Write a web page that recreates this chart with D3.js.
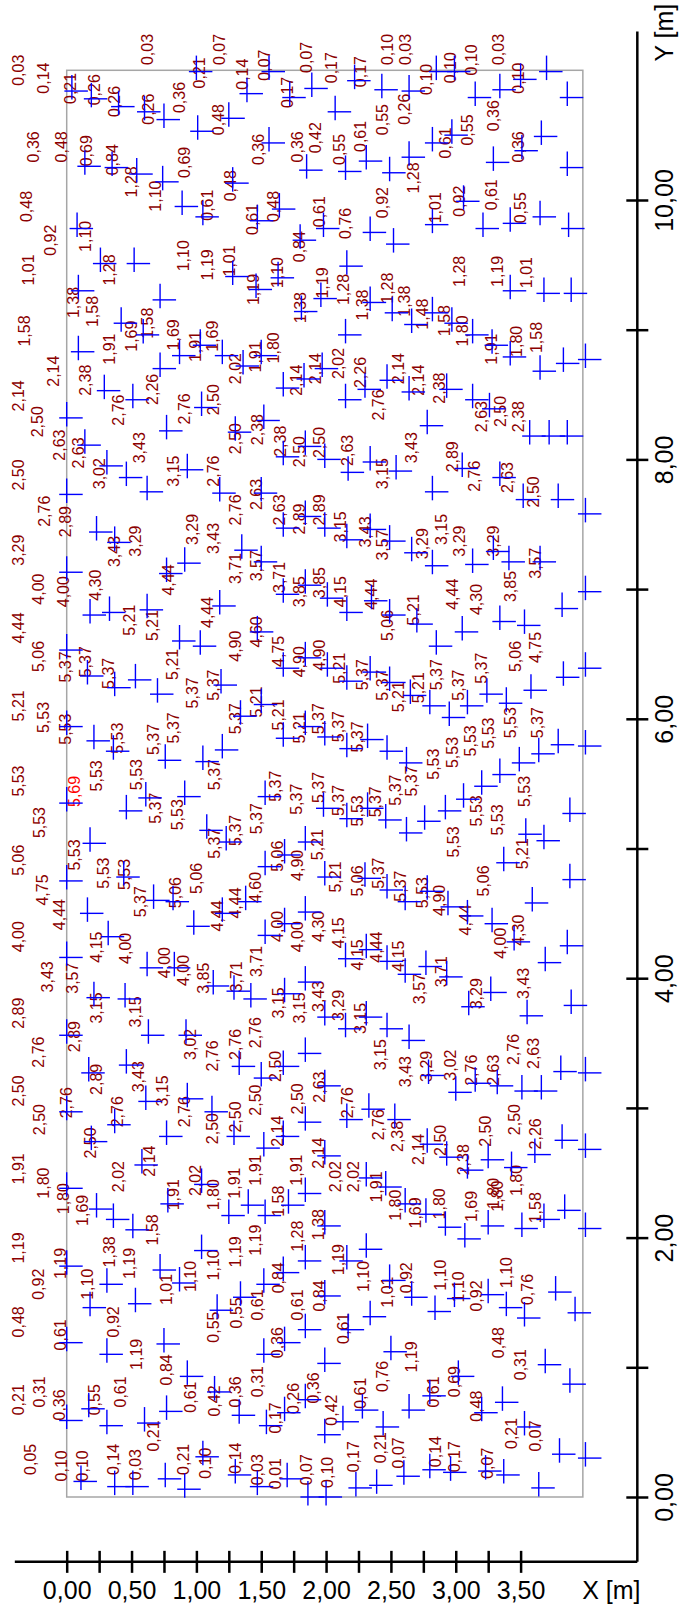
<!DOCTYPE html>
<html>
<head>
<meta charset="utf-8">
<script src="https://cdn.jsdelivr.net/npm/d3@7"></script>
<style>
  body { margin: 0; background: #fff; }
  svg { display: block; font-family: "Liberation Sans", Arial, sans-serif; }
</style>
</head>
<body>
<svg id="chart" width="680" height="1606"></svg>
<script>
// survey area (m)
const areaX = [0, 3.98];
const areaY = [0, 11];

// axis extents and ticks (m)
const xAxisSpan = [-0.4, 4.4];
const yAxisSpan = [-0.5, 11.3];
const xTicks = d3.range(0, 3.51, 0.25);
const yTicks = d3.range(0, 10.01, 1);

// measuring points [X, Y]
const points = [
  [1.00,10.99],[0.04,10.84],[0.19,10.78],[0.40,10.72],[0.60,10.68],[0.75,10.62],[1.01,10.53],[1.25,10.63],[1.39,10.82],[1.56,10.99],[1.72,10.79],[1.89,10.86],[2.07,10.68],[0.14,10.26],[0.35,10.25],[0.54,10.20],[0.74,10.14],[0.89,9.95],[1.05,9.87],[1.28,10.13],[1.56,10.44],[1.85,10.23],[2.15,10.22],[1.47,9.84],[1.64,9.93],[1.80,9.69],[1.98,9.78],[0.08,9.78],[0.26,9.51],[0.52,9.51],[1.28,9.41],[1.46,9.31],[1.63,9.40],[0.72,9.23],[0.09,9.30],[1.81,9.14],[1.96,9.24],
  [2.22,10.92],[2.43,10.85],[2.64,10.84],[2.85,10.99],[2.99,10.99],[3.15,10.79],[3.34,10.85],[3.50,10.93],[3.70,10.99],[3.86,10.79],[2.82,10.44],[2.97,10.50],[2.64,10.33],[2.49,10.21],[2.31,10.30],[3.66,10.49],[3.51,10.38],[3.29,10.29],[3.86,10.25],[3.06,9.99],[2.82,9.81],[2.52,9.66],[2.34,9.75],[3.21,9.78],[3.42,9.82],[3.65,9.87],[3.87,9.78],[2.16,9.49],[3.42,9.30],[3.68,9.28],[3.89,9.28],[2.34,9.21],[2.51,9.13],[2.82,9.13],
  [0.42,9.05],[0.59,8.96],[0.09,8.83],[0.87,8.80],[1.03,8.88],[1.20,8.80],[0.72,8.70],[1.36,8.72],[1.50,8.80],[0.29,8.53],[0.51,8.46],[0.00,8.32],[0.77,8.22],[1.04,8.40],[1.30,8.21],[1.52,8.30],[1.67,8.55],[1.83,8.62],[1.97,8.70],[2.15,8.96],[0.14,8.11],[0.31,7.95],[0.46,7.86],[0.62,7.75],[0.93,7.92],[1.18,7.74],[1.50,7.74],[1.67,8.02],[1.84,8.10],[1.99,8.00],[0.00,7.73],[0.23,7.44],[0.37,7.36],[0.91,7.20],[0.77,7.12],[0.00,7.13],[1.35,7.30],[1.50,7.21],[1.67,7.47],[1.84,7.56],[1.99,7.47],[1.67,6.96],[1.84,7.03],[2.01,6.93],[1.18,6.87],
  [2.66,9.04],[2.97,9.05],[3.13,8.96],[3.28,8.88],[3.42,8.79],[3.65,8.68],[3.83,8.74],[4.00,8.77],[2.15,8.46],[2.30,8.54],[2.47,8.61],[2.64,8.52],[2.93,8.54],[3.13,8.46],[3.26,8.39],[2.78,8.26],[3.57,8.18],[3.72,8.18],[3.86,8.18],[2.17,7.90],[2.34,7.98],[2.54,7.91],[3.05,7.93],[3.34,7.86],[2.82,7.75],[3.52,7.69],[3.79,7.69],[4.00,7.58],[2.16,7.38],[2.34,7.46],[2.49,7.37],[2.66,7.28],[2.82,7.18],[3.13,7.19],[3.29,7.29],[3.41,7.21],[3.65,7.21],[4.00,6.98],[2.35,6.91],
  [0.18,6.80],[0.33,6.82],[0.62,6.84],[0.87,6.60],[1.03,6.56],[1.47,6.67],[1.67,6.39],[1.84,6.47],[2.01,6.39],[0.00,6.53],[0.16,6.33],[0.37,6.24],[0.53,6.30],[0.70,6.19],[1.19,6.26],[1.34,6.02],[1.50,6.11],[1.67,5.85],[1.84,5.94],[1.99,5.86],[0.00,5.94],[0.21,5.83],[0.36,5.75],[0.76,5.68],[1.05,5.67],[1.20,5.76],[0.00,5.35],[0.46,5.29],[0.61,5.39],[0.91,5.40],[1.08,5.14],[1.23,5.05],[1.53,5.40],[1.84,5.05],[1.98,5.31],[0.18,5.04],[0.00,4.75],[0.44,4.78],[1.53,4.86],[1.68,4.95],[1.99,4.78],
  [2.16,6.82],[2.49,6.80],[2.70,6.73],[2.85,6.56],[3.05,6.67],[3.34,6.75],[3.53,6.72],[3.82,6.85],[2.16,6.29],[2.34,6.36],[2.49,6.28],[2.65,6.18],[2.80,6.10],[2.95,6.01],[3.09,6.10],[3.24,6.19],[3.39,6.12],[3.58,6.22],[3.83,6.32],[4.00,6.39],[2.16,5.77],[2.32,5.84],[2.47,5.75],[2.62,5.66],[2.76,5.21],[2.92,5.29],[3.06,5.38],[3.20,5.48],[3.34,5.57],[3.49,5.66],[3.64,5.73],[3.79,5.80],[4.00,5.79],[2.16,5.23],[2.32,5.31],[2.46,5.22],[2.62,5.12],[3.54,5.11],[3.68,5.06],[3.88,5.27],[3.37,4.89],[3.88,4.76],[2.30,4.77],[2.47,4.68],[2.78,4.67],
  [0.67,4.60],[0.82,4.59],[1.38,4.59],[0.16,4.50],[0.32,4.32],[0.98,4.40],[1.20,4.50],[1.53,4.33],[1.68,4.42],[1.84,4.51],[0.00,4.16],[0.62,4.08],[0.83,4.08],[1.13,3.94],[1.29,3.90],[1.42,3.84],[1.68,3.88],[1.84,3.97],[1.99,3.70],[0.21,3.85],[0.45,3.84],[0.00,3.56],[0.63,3.56],[0.92,3.56],[1.84,3.42],[1.67,3.32],[1.50,3.23],[1.33,3.32],[0.17,3.27],[0.46,3.33],[0.61,3.05],[0.93,3.07],[1.12,2.97],[0.00,2.97],[0.37,2.87],[0.19,2.74],[0.77,2.78],[1.29,2.78],[1.52,2.69],[1.67,2.78],[1.84,2.89],[1.99,3.17],[0.58,2.56],[1.99,2.63],
  [2.61,4.59],[2.94,4.55],[3.09,4.48],[3.28,4.42],[3.59,4.58],[3.45,4.28],[3.69,4.12],[3.86,4.25],[2.15,4.15],[2.31,4.22],[2.47,4.13],[2.61,4.03],[2.77,4.09],[2.93,4.01],[3.27,3.89],[3.10,3.78],[3.55,3.71],[3.89,3.79],[2.15,3.61],[2.31,3.70],[2.47,3.61],[2.64,3.52],[2.79,3.25],[3.00,3.12],[3.15,3.19],[3.32,3.17],[3.51,3.13],[3.66,3.13],[3.81,3.28],[4.00,3.27],[2.16,2.91],[2.33,2.99],[2.53,2.91],[2.78,2.72],[2.93,2.62],[3.09,2.52],[3.25,2.60],[3.43,2.54],[3.61,2.64],[3.82,2.75],[4.00,2.68],[2.31,2.46],
  [0.00,2.38],[1.04,2.41],[0.23,2.22],[0.36,2.14],[0.51,2.06],[0.78,2.26],[1.25,2.17],[1.40,2.25],[1.53,2.17],[1.71,2.25],[1.84,2.34],[1.99,2.09],[1.04,1.90],[0.00,1.78],[0.31,1.64],[0.18,1.46],[0.53,1.49],[0.72,1.75],[0.87,1.65],[1.16,1.44],[1.34,1.54],[1.52,1.64],[1.67,1.73],[1.84,1.82],[1.99,1.55],[0.00,1.19],[0.31,1.10],[0.75,1.18],[0.93,0.93],[1.14,0.81],[1.52,1.10],[1.68,1.19],[1.84,1.29],[1.99,1.03],[0.00,0.59],[0.17,0.68],[0.31,0.55],[0.60,0.57],[0.77,0.66],[1.33,0.63],[1.54,0.55],[1.68,0.65],[1.84,0.75],[1.99,0.48],[1.05,0.31],
  [0.11,0.12],[0.37,0.08],[0.51,0.08],[0.76,0.14],[0.91,0.06],[1.30,0.17],[1.47,0.08],[1.70,0.14],[1.86,0.00],[2.00,0.00],[2.23,0.07],[2.39,0.09],[2.60,0.16],[2.80,0.21],[2.96,0.19],[3.23,0.20],[3.37,0.17],[3.64,0.07],
  [2.46,2.39],[2.61,2.26],[2.77,2.18],[2.92,2.08],[3.07,1.99],[3.25,2.09],[3.51,2.07],[3.68,2.14],[3.84,2.21],[4.00,2.07],[2.31,1.91],[2.16,1.82],[2.49,1.67],[2.66,1.54],[2.84,1.43],[2.99,1.53],[3.25,1.56],[3.39,1.46],[3.53,1.38],[3.77,1.58],[3.92,1.42],[2.34,1.39],[2.17,1.29],[2.50,1.12],[3.69,1.02],[3.88,0.87],[3.02,0.93],[2.80,0.78],[2.64,0.67],[2.28,0.67],[2.13,0.58],[2.44,0.54],[3.20,0.65],[3.36,0.73],[3.53,0.54],[3.80,0.33],[4.00,0.30]
];

// value labels [X, Y, text]
const values = [
  [-0.37,11.00,'0,03'],[-0.18,10.94,'0,14'],[0.62,11.16,'0,03'],[1.18,11.16,'0,07'],[1.02,10.98,'0,21'],[0.03,10.86,'0,21'],[0.21,10.85,'0,26'],[0.37,10.76,'0,26'],[0.63,10.70,'0,26'],[0.87,10.79,'0,36'],[1.35,10.97,'0,14'],[1.52,11.04,'0,07'],[1.85,11.10,'0,07'],[1.70,10.83,'0,17'],[2.04,11.02,'0,17'],
  [-0.26,10.41,'0,36'],[-0.04,10.41,'0,48'],[0.15,10.38,'0,69'],[0.35,10.31,'0,84'],[0.50,10.14,'1,28'],[0.68,10.03,'1,10'],[0.91,10.29,'0,69'],[1.17,10.62,'0,48'],[1.26,10.11,'0,48'],[1.48,10.39,'0,36'],[1.78,10.41,'0,36'],[1.92,10.48,'0,42'],[2.10,10.39,'0,55'],
  [1.08,9.96,'0,61'],[1.43,9.85,'0,61'],[1.59,9.95,'0,48'],[1.95,9.91,'0,61'],[1.79,9.64,'0,84'],[-0.31,9.95,'0,48'],[-0.13,9.69,'0,92'],[0.14,9.72,'1,10'],[-0.30,9.46,'1,01'],[0.33,9.46,'1,28'],[0.90,9.57,'1,10'],[1.08,9.50,'1,19'],[1.25,9.53,'1,01'],[1.44,9.31,'1,19'],[1.62,9.44,'1,10'],[1.97,9.36,'1,19'],[0.05,9.21,'1,38'],[0.20,9.14,'1,58'],[0.62,9.05,'1,58'],[1.80,9.17,'1,38'],
  [2.26,10.99,'0,17'],[2.47,11.16,'0,10'],[2.61,11.16,'0,03'],[2.77,10.93,'0,10'],[2.96,11.02,'0,10'],[3.12,11.08,'0,10'],[3.33,11.16,'0,03'],[3.48,10.94,'0,10'],[2.43,10.62,'0,55'],[2.60,10.70,'0,26'],[2.26,10.49,'0,61'],[2.92,10.44,'0,61'],[3.09,10.54,'0,55'],[3.29,10.65,'0,36'],[3.48,10.41,'0,36'],[2.67,10.17,'1,28'],[2.43,9.98,'0,92'],[2.15,9.82,'0,76'],[2.84,9.94,'1,01'],[3.03,9.99,'0,92'],[3.27,10.04,'0,61'],[3.50,9.94,'0,55'],[3.03,9.45,'1,28'],[3.32,9.45,'1,19'],[3.54,9.44,'1,01'],[2.13,9.31,'1,28'],[2.28,9.19,'1,38'],[2.47,9.32,'1,28'],[2.60,9.22,'1,38'],[2.74,9.12,'1,48'],[2.91,9.07,'1,58'],
  [-0.33,8.99,'1,58'],[0.50,8.95,'1,69'],[0.33,8.85,'1,91'],[0.82,8.96,'1,69'],[0.99,8.87,'1,91'],[1.12,8.95,'1,69'],[1.30,8.70,'2,02'],[1.45,8.79,'1,91'],[1.59,8.86,'1,80'],[-0.10,8.68,'2,14'],[0.14,8.61,'2,38'],[0.66,8.54,'2,26'],[1.77,8.61,'2,14'],[1.92,8.70,'2,14'],[2.09,8.74,'2,02'],[-0.37,8.49,'2,14'],[-0.23,8.29,'2,50'],[0.40,8.38,'2,76'],[0.91,8.39,'2,76'],[1.13,8.46,'2,50'],[1.30,8.16,'2,50'],[1.47,8.23,'2,38'],[1.65,8.14,'2,38'],[1.79,8.06,'2,50'],[1.95,8.13,'2,50'],[-0.06,8.11,'2,63'],[0.09,8.05,'2,63'],[0.56,8.09,'3,43'],[0.25,7.89,'3,02'],[0.82,7.91,'3,15'],[1.13,7.91,'2,76'],[1.30,7.61,'2,76'],[1.46,7.73,'2,63'],[1.64,7.61,'2,63'],[1.79,7.54,'2,89'],[1.95,7.61,'2,89'],[-0.37,7.88,'2,50'],[-0.17,7.60,'2,76'],[-0.01,7.52,'2,89'],[-0.37,7.30,'3,29'],[0.37,7.29,'3,43'],[0.53,7.37,'3,29'],[0.97,7.46,'3,29'],[1.13,7.39,'3,43'],[1.30,7.16,'3,71'],[1.46,7.18,'3,57'],[1.64,7.09,'3,71'],[1.79,6.98,'3,85'],[1.95,7.05,'3,85'],[-0.22,7.00,'4,00'],[-0.03,6.98,'4,00'],[0.22,7.03,'4,30'],[0.78,7.07,'4,44'],[1.08,6.82,'4,44'],[2.11,6.98,'4,15'],
  [3.05,8.99,'1,80'],[3.27,8.85,'1,91'],[3.47,8.91,'1,80'],[3.62,8.94,'1,58'],[2.26,8.67,'2,26'],[2.40,8.42,'2,76'],[2.56,8.70,'2,14'],[2.71,8.61,'2,14'],[2.87,8.55,'2,38'],[3.20,8.33,'2,63'],[3.34,8.37,'2,50'],[3.48,8.33,'2,38'],[2.16,8.07,'2,63'],[2.43,7.89,'3,15'],[2.66,8.09,'3,43'],[2.97,8.02,'2,89'],[3.14,7.87,'2,76'],[3.40,7.86,'2,63'],[3.60,7.75,'2,50'],[2.11,7.48,'3,15'],[2.30,7.44,'3,43'],[2.43,7.34,'3,57'],[2.74,7.35,'3,29'],[2.89,7.46,'3,15'],[3.03,7.37,'3,29'],[3.29,7.37,'3,29'],[3.61,7.20,'3,57'],[3.42,7.02,'3,85'],[2.97,6.96,'4,44'],[3.16,6.92,'4,30'],[2.67,6.84,'5,21'],[2.35,6.96,'4,44'],
  [-0.37,6.70,'4,44'],[-0.22,6.48,'5,06'],[-0.01,6.40,'5,37'],[0.14,6.44,'5,37'],[0.32,6.35,'5,37'],[0.48,6.76,'5,21'],[0.66,6.72,'5,21'],[0.81,6.42,'5,21'],[0.97,6.20,'5,37'],[1.13,6.26,'5,37'],[1.30,6.56,'4,90'],[1.46,6.67,'4,60'],[1.63,6.52,'4,75'],[1.79,6.44,'4,90'],[1.95,6.49,'4,90'],[2.10,6.39,'5,21'],[-0.37,6.10,'5,21'],[-0.18,6.01,'5,53'],[-0.01,5.92,'5,53'],[0.39,5.85,'5,53'],[0.67,5.84,'5,37'],[0.82,5.93,'5,37'],[1.30,6.00,'5,37'],[1.46,6.13,'5,21'],[1.63,6.03,'5,21'],[1.79,5.93,'5,21'],[1.94,6.00,'5,37'],[2.09,5.94,'5,37'],[1.14,5.57,'5,37'],[-0.37,5.52,'5,53'],[0.06,5.44,'5,69'],[0.23,5.56,'5,53'],[0.54,5.57,'5,53'],[0.68,5.31,'5,37'],[0.85,5.26,'5,53'],[1.14,5.04,'5,37'],[1.30,5.14,'5,37'],[1.46,5.23,'5,37'],[1.61,5.48,'5,37'],[1.77,5.38,'5,37'],[1.94,5.47,'5,37'],[2.09,5.37,'5,37'],[-0.21,5.20,'5,53'],[-0.37,4.91,'5,06'],[0.06,4.95,'5,53'],[0.28,4.81,'5,53'],[0.44,4.80,'5,53'],[-0.19,4.68,'4,75'],[1.00,4.77,'5,06'],[1.62,4.94,'5,06'],[1.78,4.87,'4,90'],[1.93,5.03,'5,21'],[2.07,4.78,'5,21'],[0.84,4.66,'5,06'],[0.57,4.59,'5,37'],[1.30,4.58,'4,44'],[1.45,4.70,'4,60'],
  [2.47,6.72,'5,06'],[3.46,6.48,'5,06'],[3.61,6.55,'4,75'],[2.28,6.34,'5,37'],[2.43,6.26,'5,37'],[2.56,6.17,'5,21'],[2.71,6.24,'5,21'],[2.85,6.34,'5,37'],[3.02,6.26,'5,37'],[3.20,6.39,'5,37'],[2.24,5.86,'5,37'],[2.66,5.52,'5,37'],[2.83,5.65,'5,53'],[2.97,5.74,'5,53'],[3.11,5.83,'5,53'],[3.25,5.89,'5,53'],[3.42,5.97,'5,53'],[3.63,5.97,'5,37'],[2.53,5.45,'5,37'],[2.38,5.36,'5,37'],[2.24,5.29,'5,53'],[3.16,5.29,'5,53'],[3.32,5.22,'5,53'],[3.53,5.44,'5,53'],[2.98,5.05,'5,53'],[3.51,4.96,'5,21'],[2.24,4.75,'5,06'],[2.40,4.81,'5,37'],[2.57,4.71,'5,37'],[2.74,4.66,'5,53'],[3.21,4.75,'5,06'],[2.87,4.60,'4,90'],
  [-0.06,4.49,'4,44'],[-0.37,4.32,'4,00'],[1.16,4.48,'4,44'],[0.23,4.24,'4,15'],[0.45,4.23,'4,00'],[0.75,4.12,'4,00'],[0.90,4.06,'4,00'],[1.05,4.00,'3,85'],[1.31,4.01,'3,71'],[1.46,4.13,'3,71'],[1.62,4.40,'4,00'],[1.78,4.32,'4,00'],[1.94,4.40,'4,30'],[2.09,4.35,'4,15'],[-0.15,4.01,'3,43'],[0.04,4.00,'3,57'],[0.23,3.77,'3,15'],[0.53,3.74,'3,15'],[1.63,3.81,'3,15'],[1.79,3.77,'3,15'],[1.94,3.86,'3,43'],[2.09,3.79,'3,29'],[-0.37,3.73,'2,89'],[-0.22,3.43,'2,76'],[0.06,3.55,'2,89'],[0.23,3.22,'2,89'],[0.55,3.24,'3,43'],[0.74,3.13,'3,15'],[0.95,3.49,'3,02'],[1.12,3.40,'2,76'],[1.30,3.49,'2,76'],[1.45,3.58,'2,76'],[1.61,3.32,'2,50'],[1.78,3.07,'2,50'],[1.95,3.16,'2,63'],[-0.37,3.13,'2,50'],[-0.21,2.91,'2,50'],[0.00,3.04,'2,76'],[0.39,2.97,'2,76'],[0.91,2.97,'2,76'],[1.12,2.84,'2,50'],[1.30,2.93,'2,50'],[1.45,3.06,'2,50'],[1.62,2.82,'2,14'],[0.18,2.73,'2,50'],[0.64,2.59,'2,14'],[1.94,2.65,'2,14'],[-0.37,2.53,'1,91'],[1.45,2.52,'1,91'],[1.77,2.52,'1,91'],[2.07,2.47,'2,02'],[0.40,2.47,'2,02'],[1.29,2.42,'1,91'],[-0.18,2.42,'1,80'],[0.99,2.44,'2,02'],[0.82,2.33,'1,91'],
  [3.07,4.45,'4,44'],[3.34,4.27,'4,00'],[3.48,4.37,'4,30'],[2.24,4.18,'4,15'],[2.39,4.24,'4,44'],[2.56,4.17,'4,15'],[2.72,3.92,'3,57'],[2.89,4.05,'3,71'],[3.16,3.88,'3,29'],[3.52,3.96,'3,43'],[2.26,3.69,'3,15'],[2.42,3.41,'3,15'],[2.61,3.28,'3,43'],[2.77,3.32,'3,29'],[2.96,3.33,'3,02'],[3.12,3.29,'2,76'],[3.29,3.29,'2,63'],[3.44,3.45,'2,76'],[3.60,3.42,'2,63'],[2.16,3.04,'2,76'],[2.40,2.87,'2,76'],[2.55,2.78,'2,38'],[2.71,2.68,'2,14'],[2.88,2.75,'2,50'],[3.06,2.60,'2,38'],[3.23,2.82,'2,50'],[3.45,2.91,'2,50'],[3.61,2.80,'2,26'],[2.21,2.47,'2,02'],[2.39,2.39,'1,91'],[3.29,2.34,'1,80'],[3.47,2.44,'1,80'],
  [-0.03,2.30,'1,80'],[0.12,2.21,'1,69'],[1.13,2.33,'1,80'],[1.63,2.28,'1,58'],[0.66,2.06,'1,58'],[-0.37,1.92,'1,19'],[-0.05,1.80,'1,19'],[0.33,1.89,'1,38'],[0.48,1.80,'1,19'],[0.16,1.64,'1,10'],[0.77,1.60,'1,01'],[0.95,1.70,'1,10'],[1.13,1.79,'1,10'],[1.30,1.89,'1,19'],[1.45,1.98,'1,19'],[1.78,2.01,'1,28'],[1.94,2.10,'1,38'],[1.63,1.69,'0,84'],[1.95,1.55,'0,84'],[2.09,1.83,'1,19'],[-0.22,1.64,'0,92'],[-0.37,1.35,'0,48'],[-0.05,1.25,'0,61'],[0.36,1.35,'0,92'],[0.54,1.10,'1,19'],[0.77,0.98,'0,84'],[1.13,1.31,'0,55'],[1.31,1.42,'0,55'],[1.47,1.48,'0,61'],[1.78,1.48,'0,61'],[1.62,1.19,'0,36'],[2.13,1.30,'0,61'],[-0.37,0.75,'0,21'],[-0.21,0.81,'0,31'],[-0.06,0.71,'0,36'],[0.21,0.75,'0,55'],[0.41,0.81,'0,61'],[0.95,0.77,'0,61'],[1.14,0.74,'0,42'],[1.30,0.81,'0,36'],[1.47,0.89,'0,31'],[1.75,0.76,'0,26'],[1.90,0.84,'0,36'],[2.04,0.67,'0,42'],[1.61,0.61,'0,17'],[0.67,0.47,'0,21'],[-0.28,0.29,'0,05'],[-0.04,0.24,'0,10'],[0.12,0.24,'0,10'],[0.36,0.29,'0,14'],[0.53,0.25,'0,03'],[0.90,0.29,'0,21'],[1.07,0.26,'0,10'],[1.30,0.30,'0,14'],[1.47,0.21,'0,03'],[1.61,0.18,'0,01'],[1.85,0.21,'0,07'],[2.01,0.19,'0,10'],
  [2.53,2.25,'1,80'],[2.69,2.19,'1,69'],[2.87,2.26,'1,80'],[3.12,2.24,'1,69'],[3.32,2.32,'1,80'],[3.61,2.23,'1,58'],[2.29,1.70,'1,10'],[2.47,1.58,'1,01'],[2.62,1.69,'0,92'],[2.88,1.71,'1,10'],[3.02,1.62,'1,10'],[3.16,1.55,'0,92'],[3.39,1.73,'1,10'],[3.55,1.60,'0,76'],[2.43,0.93,'0,76'],[2.66,1.08,'1,19'],[3.33,1.19,'0,48'],[3.50,1.02,'0,31'],[2.26,0.80,'0,61'],[2.83,0.81,'0,61'],[2.99,0.89,'0,69'],[3.16,0.70,'0,48'],[3.43,0.49,'0,21'],[3.61,0.47,'0,07'],[2.21,0.31,'0,17'],[2.42,0.38,'0,21'],[2.56,0.34,'0,07'],[2.84,0.35,'0,14'],[2.99,0.31,'0,17'],[3.24,0.26,'0,07']
];

const svg = d3.select("#chart");

// 1 m is drawn at the same length on both axes
const x = d3.scaleLinear().domain([0, 3.5]).range([66.7, 520.6]);
const y = d3.scaleLinear().domain([0, 10]).range([1497, 200]);

const fmt = v => d3.format(".2f")(v).replace(".", ",");

// survey rectangle
svg.append("rect")
  .attr("x", x(areaX[0]))
  .attr("y", y(areaY[1]))
  .attr("width", x(areaX[1]) - x(areaX[0]))
  .attr("height", y(areaY[0]) - y(areaY[1]))
  .attr("fill", "none")
  .attr("stroke", "#a6a6a6")
  .attr("stroke-width", 1.5);

// X axis
const xAxisG = svg.append("g")
  .attr("transform", "translate(0," + y(yAxisSpan[0]) + ")")
  .call(d3.axisBottom(x).tickValues(xTicks).tickSize(11).tickPadding(8)
    .tickFormat(d => (Math.round(d * 100) % 50 === 0) ? fmt(d) : ""));
xAxisG.select(".domain").remove();
xAxisG.selectAll(".tick line").attr("y1", -11).attr("stroke-width", 2.5);
xAxisG.selectAll(".tick text").attr("font-size", 25).attr("fill", "#000")
  .attr("font-family", "Liberation Sans, Arial, sans-serif");
xAxisG.append("line")
  .attr("x1", x(xAxisSpan[0])).attr("x2", x(xAxisSpan[1]))
  .attr("stroke", "#000").attr("stroke-width", 2.5);

// Y axis
const yAxisG = svg.append("g")
  .attr("transform", "translate(" + x(xAxisSpan[1]) + ",0)")
  .call(d3.axisRight(y).tickValues(yTicks).tickSize(11)
    .tickFormat(d => d % 2 === 0 ? fmt(d) : ""));
yAxisG.select(".domain").remove();
yAxisG.selectAll(".tick line").attr("x1", -11).attr("stroke-width", 2.5);
yAxisG.selectAll(".tick text")
  .attr("x", null).attr("dy", null)
  .attr("text-anchor", "middle")
  .attr("transform", "translate(35.5,0) rotate(-90)")
  .attr("font-size", 25).attr("fill", "#000")
  .attr("font-family", "Liberation Sans, Arial, sans-serif");
yAxisG.append("line")
  .attr("y1", y(yAxisSpan[0])).attr("y2", y(yAxisSpan[1]))
  .attr("stroke", "#000").attr("stroke-width", 2.5);

// axis titles
svg.append("text")
  .attr("x", x(4.2)).attr("y", y(yAxisSpan[0]) + 37.5)
  .attr("text-anchor", "middle").attr("font-size", 25)
  .text("X [m]");
svg.append("text")
  .attr("transform", "translate(" + (x(xAxisSpan[1]) + 35.5) + "," + y(11.29) + ") rotate(-90)")
  .attr("text-anchor", "middle").attr("font-size", 25)
  .text("Y [m]");

// value labels
const maxVal = d3.max(values, d => +d[2].replace(",", "."));
svg.append("g").selectAll("text")
  .data(values)
  .enter().append("text")
  .attr("transform", d => "translate(" + x(d[0]) + "," + y(d[1]) + ") rotate(-90)")
  .attr("text-anchor", "middle")
  .attr("dy", "0.36em")
  .attr("font-size", 16)
  .attr("fill", d => +d[2].replace(",", ".") === maxVal ? "#ff0000" : "#8b0000")
  .text(d => d[2]);

// measuring points as crosses
const cross = svg.append("g").attr("stroke", "#0000ff").attr("stroke-width", 1.4)
  .selectAll("g")
  .data(points)
  .enter().append("g")
  .attr("transform", d => "translate(" + x(d[0]) + "," + y(d[1]) + ")");
cross.append("line").attr("x1", -7.5).attr("x2", 16);
cross.append("line").attr("y1", -16).attr("y2", 8.5);
</script>
</body>
</html>
